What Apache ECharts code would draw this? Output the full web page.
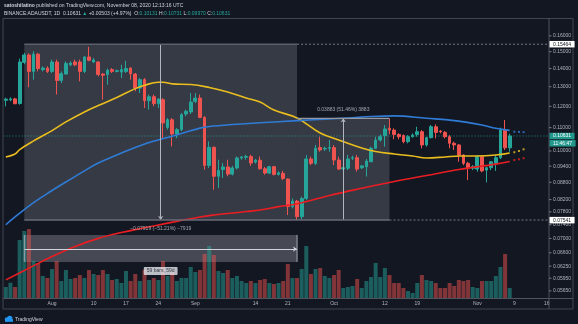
<!DOCTYPE html>
<html>
<head>
<meta charset="utf-8">
<script src="https://cdn.jsdelivr.net/npm/echarts@6/dist/echarts.min.js"></script>
<style>
  html, body { margin: 0; padding: 0; background: #131722; }
  #chart { width: 578px; height: 324px; }
</style>
</head>
<body>
<div id="chart"></div>
<script>
// ---------- ADA/USDT daily, Jul 22 – Nov 8 2020 (axis runs on to Nov 16) ----------
const firstDate = '2020-07-22';
const axisDays = 118;

const xTickDates = ['2020-08-01','2020-08-10','2020-08-17','2020-08-24','2020-09-01','2020-09-14',
  '2020-09-21','2020-10-01','2020-10-12','2020-10-19','2020-11-01','2020-11-09','2020-11-16'];
const xTickTexts = ['Aug','10','17','24','Sep','14','21','Oct','12','19','Nov','9','16'];

const priceTicks = [0.16, 0.15, 0.14, 0.13, 0.12, 0.11, 0.10, 0.094, 0.088, 0.082, 0.078,
  0.074, 0.070, 0.066, 0.0625, 0.0595, 0.0565];

const opens = [
  0.1230,0.1232,0.1237,0.1214,0.1436,0.1480,0.1384,0.1485,0.1394,0.1403,
  0.1384,0.1438,0.1334,0.1369,0.1422,0.1438,0.1438,0.1384,0.1468,0.1438,
  0.1438,0.1369,0.1366,0.1394,0.1384,0.1380,0.1384,0.1403,0.1369,0.1293,
  0.1338,0.1228,0.1248,0.1213,0.1233,0.1101,0.1136,0.1072,0.1091,0.1163,
  0.1173,0.1225,0.1241,0.1147,0.0943,0.1015,0.0902,0.0927,0.0937,0.0910,
  0.0933,0.0972,0.0975,0.0978,0.0956,0.0963,0.0930,0.0914,0.0938,0.0909,
  0.0913,0.0892,0.0797,0.0815,0.0765,0.0824,0.0968,0.0951,0.1014,0.1008,
  0.1011,0.1014,0.0964,0.0929,0.0932,0.0971,0.0973,0.0934,0.0938,0.0957,
  0.1011,0.1046,0.1065,0.1097,0.1089,0.1070,0.1065,0.1039,0.1060,0.1070,
  0.1082,0.1025,0.1056,0.1104,0.1085,0.1079,0.1060,0.1032,0.1025,0.0984,
  0.0951,0.0932,0.0929,0.0977,0.0925,0.0934,0.0951,0.0973,0.1089,0.10131];
const highs = [
  0.1243,0.1245,0.1243,0.1458,0.1492,0.1490,0.1502,0.1492,0.1413,0.1413,
  0.1452,0.1452,0.1384,0.1442,0.1442,0.1452,0.1452,0.1472,0.1530,0.1462,
  0.1442,0.1375,0.1400,0.1403,0.1394,0.1422,0.1445,0.1407,0.1375,0.1347,
  0.1347,0.1259,0.1259,0.1241,0.1241,0.1144,0.1144,0.1098,0.1168,0.1184,
  0.1267,0.1267,0.1259,0.1152,0.1040,0.1019,0.0965,0.0952,0.0965,0.0941,
  0.0978,0.0980,0.0985,0.0985,0.0968,0.0978,0.0937,0.0941,0.0941,0.0920,
  0.0922,0.0894,0.0824,0.0819,0.0830,0.0984,0.0977,0.1025,0.1060,0.1018,
  0.1046,0.1025,0.0977,0.0938,0.0984,0.0981,0.0984,0.0944,0.0968,0.1018,
  0.1060,0.1070,0.1112,0.1140,0.1097,0.1075,0.1070,0.1067,0.1075,0.1104,
  0.1089,0.1060,0.1112,0.1115,0.1089,0.1085,0.1067,0.1039,0.1028,0.0986,
  0.0957,0.0944,0.0984,0.0981,0.0938,0.0960,0.0984,0.1100,0.1135,0.10731];
const lows = [
  0.1200,0.1225,0.1210,0.1208,0.1425,0.1297,0.1338,0.1384,0.1384,0.1375,
  0.1375,0.1259,0.1320,0.1366,0.1413,0.1413,0.1329,0.1375,0.1442,0.1432,
  0.1356,0.1233,0.1311,0.1375,0.1378,0.1347,0.1375,0.1338,0.1276,0.1267,
  0.1192,0.1184,0.1200,0.1192,0.1054,0.1091,0.1019,0.1054,0.1084,0.1152,
  0.1163,0.1216,0.1144,0.0927,0.0933,0.0854,0.0860,0.0896,0.0902,0.0905,
  0.0927,0.0965,0.0965,0.0941,0.0950,0.0927,0.0908,0.0910,0.0905,0.0905,
  0.0888,0.0770,0.0791,0.07545,0.0756,0.0819,0.0944,0.0944,0.0997,0.1000,
  0.0997,0.0944,0.0925,0.0922,0.0925,0.0964,0.0919,0.0929,0.0901,0.0957,
  0.1008,0.1039,0.1018,0.1070,0.1049,0.1049,0.1032,0.1032,0.1056,0.1060,
  0.1011,0.1018,0.1053,0.1053,0.1075,0.1053,0.1011,0.1004,0.0957,0.0944,
  0.0888,0.0925,0.0919,0.0917,0.0880,0.0925,0.0922,0.0968,0.1004,0.09970];
const closes = [
  0.1236,0.1237,0.1213,0.1438,0.1480,0.1384,0.1485,0.1400,0.1403,0.1384,
  0.1438,0.1334,0.1371,0.1430,0.1432,0.1422,0.1384,0.1468,0.1448,0.1450,
  0.1366,0.1362,0.1390,0.1384,0.1388,0.1394,0.1400,0.1371,0.1293,0.1338,
  0.1228,0.1248,0.1213,0.1236,0.1121,0.1136,0.1072,0.1091,0.1160,0.1176,
  0.1221,0.1241,0.1147,0.0943,0.1015,0.0902,0.0924,0.0937,0.0910,0.0933,
  0.0972,0.0976,0.0978,0.0952,0.0963,0.0930,0.0914,0.0938,0.0909,0.0915,
  0.0894,0.0797,0.0815,0.0765,0.0824,0.0968,0.0951,0.1011,0.1004,0.1011,
  0.1014,0.0964,0.0929,0.0934,0.0968,0.0973,0.0929,0.0941,0.0960,0.1011,
  0.1046,0.1060,0.1094,0.1089,0.1070,0.1060,0.1039,0.1060,0.1067,0.1082,
  0.1025,0.1056,0.1104,0.1079,0.1082,0.1060,0.1032,0.1025,0.0984,0.0951,
  0.0932,0.0938,0.0977,0.0922,0.0934,0.0957,0.0973,0.1089,0.10131,0.10631];
const volumes = [
  110,153,110,580,670,690,370,350,220,200,
  290,370,170,280,190,200,230,200,280,240,
  230,280,240,180,190,150,270,170,240,170,
  280,180,200,180,370,220,270,170,200,200,
  310,260,280,440,520,430,270,250,280,200,
  220,170,150,170,150,180,190,150,140,150,
  170,340,200,200,290,520,240,290,300,220,
  200,230,280,100,110,120,190,100,170,210,
  350,210,300,230,150,150,100,70,50,150,
  230,180,170,150,100,100,150,120,180,170,
  180,110,100,170,170,170,220,310,440,100];

// moving averages, [day index from Jul 22, value]
const maYellow = [[0,0.0976],[2,0.0988],[3,0.1006],[6,0.1042],[10,0.1087],[13,0.1126],[17,0.1173],
  [20,0.1204],[24,0.1244],[28,0.1290],[30,0.1308],[33,0.1324],[34,0.1324],[36,0.1315],[40,0.1312],
  [44,0.1296],[48,0.1272],[52,0.1241],[55,0.1221],[58,0.1182],[63,0.1144],[68,0.1076],[72,0.1046],
  [77,0.1012],[80,0.0998],[84,0.0988],[88,0.0980],[91,0.0972],[95,0.0976],[98,0.0980],[102,0.0980],
  [106,0.0984],[109,0.0992]];
const maBlue = [[0,0.0740],[2,0.0764],[6,0.0810],[10,0.0851],[13,0.0881],[17,0.0922],[20,0.0952],
  [24,0.0984],[28,0.1014],[31,0.1035],[35,0.1057],[38,0.1074],[42,0.1098],[44,0.1105],[49,0.1114],
  [55,0.1122],[63,0.1132],[70,0.1140],[74,0.1144],[79,0.1151],[84,0.1154],[91,0.1143],[97,0.1132],
  [103,0.1112],[106,0.1097],[109,0.1088]];
const maRed = [[0,0.0591],[5,0.0620],[10,0.0650],[15,0.0677],[20,0.0700],[25,0.0717],[30,0.0731],
  [35,0.0745],[42,0.0764],[45,0.0770],[52,0.0781],[55,0.0786],[59,0.0797],[63,0.0806],[70,0.0834],
  [77,0.0859],[84,0.0883],[91,0.0905],[98,0.0927],[106,0.0948],[109,0.0958]];
const projYellow = [[110,0.0995],[111,0.1000],[112,0.1007]];
const projBlue = [[110,0.1082],[111,0.1081],[112,0.1080]];
const projRed = [[110,0.0964],[111,0.0967],[112,0.0971]];

// drawings (price range, second price range, date range)
const rangeHigh = 0.15464, rangeLow = 0.07545, rangeUpTop = 0.11428;
const rangeStart = 4, rangeEnd = 63, rangeUpEnd = 83;
const lastPrice = 0.10631, lowTag = 0.07541;
const dateBoxTop = 0.0710, dateBoxBottom = 0.0636, dateArrowPrice = 0.0670, dateLabelPrice = 0.0613;
const downText = '\u22120.07919 (\u221251.21%) \u22127919';
const upText = '0.03883 (51.46%) 3883';
const barsText = '59 bars, 59d';

// ---------- build ----------
const FONT = 'Liberation Sans, Arial, sans-serif';
const UP = '#26a69a', DOWN = '#ef5350';

const categories = [];
(function () {
  const d0 = new Date(firstDate + 'T00:00:00Z');
  for (let k = 0; k < axisDays; k++) {
    const d = new Date(d0.getTime() + k * 86400000);
    categories.push(d.toISOString().slice(0, 10));
  }
})();
const tickMap = {};
xTickDates.forEach((d, k) => { tickMap[d] = xTickTexts[k]; });

const candleData = opens.map((o, k) => [o, closes[k], lows[k], highs[k]]);
const volumeData = volumes.map((v, k) => ({
  value: v,
  itemStyle: { color: closes[k] >= opens[k] ? 'rgba(38,166,154,0.5)' : 'rgba(239,83,80,0.5)' }
}));

const gridTop = 19, gridHeight = 279;
const priceMin = 0.0548812, priceMax = 0.171396;

function seg(points, color, width, type, z) {
  return {
    type: 'line', xAxisIndex: 1, yAxisIndex: 0, data: points, symbol: 'none', silent: true,
    lineStyle: { color: color, width: width, type: type || 'solid' }, z: z || 5, animation: false
  };
}
function maLine(points, color) {
  return {
    type: 'line', xAxisIndex: 1, yAxisIndex: 0, data: points, symbol: 'none', smooth: 0.4,
    lineStyle: { color: color, width: 1.6 }, z: 4, silent: true
  };
}
function projDots(points, color) {
  return {
    type: 'scatter', xAxisIndex: 1, yAxisIndex: 0, data: points, symbol: 'rect', symbolSize: 2,
    itemStyle: { color: color }, z: 4, silent: true
  };
}

const option = {
  backgroundColor: '#131722',
  animation: false,
  grid: { left: 3.5, top: gridTop, width: 545.5, height: gridHeight, containLabel: false },
  xAxis: [
    {
      type: 'category', data: categories, boundaryGap: true,
      axisLine: { show: false }, axisTick: { show: false }, splitLine: { show: false },
      axisLabel: {
        interval: (idx, val) => tickMap[val] !== undefined,
        formatter: (val) => tickMap[val] || '',
        color: '#b2b5be', fontSize: 5, fontFamily: FONT, margin: 3.5
      }
    },
    { type: 'value', min: -0.5, max: axisDays - 0.5, show: false }
  ],
  yAxis: [
    { type: 'log', min: priceMin, max: priceMax, show: false },
    { type: 'value', min: 0, max: 2790, show: false }
  ],
  series: [
    { type: 'bar', xAxisIndex: 0, yAxisIndex: 1, data: volumeData, barWidth: 4, z: 1, silent: true },
    {
      type: 'line', xAxisIndex: 1, yAxisIndex: 0, data: [], z: 2, silent: true,
      markArea: {
        silent: true,
        itemStyle: { color: 'rgba(120,123,134,0.35)' },
        data: [
          [{ coord: [rangeStart, rangeHigh] }, { coord: [rangeEnd, rangeLow] }],
          [{ coord: [rangeEnd, rangeUpTop] }, { coord: [rangeUpEnd, rangeLow] }],
          [{ coord: [rangeStart, dateBoxTop], itemStyle: { color: 'rgba(140,143,152,0.42)' } },
           { coord: [rangeEnd, dateBoxBottom] }]
        ]
      }
    },
    {
      type: 'candlestick', xAxisIndex: 0, yAxisIndex: 0, data: candleData, barWidth: 3.2, z: 3,
      silent: true,
      itemStyle: { color: UP, color0: DOWN, borderColor: UP, borderColor0: DOWN, borderWidth: 1 }
    },
    maLine(maYellow, '#e9bd1d'),
    maLine(maBlue, '#2f7bd6'),
    maLine(maRed, '#ea1d22'),
    projDots(projYellow, '#e9bd1d'),
    projDots(projBlue, '#2f7bd6'),
    projDots(projRed, '#ea1d22'),
    // last price line
    seg([[-0.5, lastPrice], [axisDays - 0.5, lastPrice]], 'rgba(38,166,154,0.85)', 1, [1, 2], 2),
    // price range borders
    seg([[rangeStart, rangeHigh], [rangeEnd, rangeHigh]], '#5d606b', 1.5, 'solid', 5),
    seg([[rangeStart, rangeLow], [rangeUpEnd, rangeLow]], '#6a6d78', 1.5, 'solid', 5),
    seg([[rangeEnd, rangeUpTop], [rangeUpEnd, rangeUpTop]], '#9598a1', 1.2, 'solid', 5),
    seg([[rangeEnd, rangeHigh], [axisDays - 0.5, rangeHigh]], '#787b86', 1, [2, 2], 5),
    seg([[rangeUpEnd, rangeLow], [axisDays - 0.5, rangeLow]], '#787b86', 1, [2, 2], 5),
    // date range edges
    seg([[rangeStart, dateBoxTop], [rangeStart, dateBoxBottom]], '#a3a6af', 1, 'solid', 5),
    seg([[rangeEnd, dateBoxTop], [rangeEnd, dateBoxBottom]], '#a3a6af', 1, 'solid', 5),
    {
      type: 'line', xAxisIndex: 1, yAxisIndex: 0, data: [], z: 5, silent: true,
      markLine: {
        silent: true, animation: false, symbol: ['none', 'arrow'], symbolSize: 4,
        label: { show: false },
        lineStyle: { color: '#b2b5be', width: 1, type: 'solid' },
        emphasis: { disabled: true },
        data: [
          [{ coord: [(rangeStart + rangeEnd) / 2, rangeHigh] }, { coord: [(rangeStart + rangeEnd) / 2, rangeLow] }],
          [{ coord: [(rangeEnd + rangeUpEnd) / 2, rangeLow] }, { coord: [(rangeEnd + rangeUpEnd) / 2, rangeUpTop] }],
          [{ coord: [rangeStart, dateArrowPrice], lineStyle: { color: '#d1d4dc' } }, { coord: [rangeEnd, dateArrowPrice] }]
        ]
      }
    },
    {
      type: 'scatter', xAxisIndex: 1, yAxisIndex: 0, symbolSize: 1, z: 6, silent: true,
      itemStyle: { color: 'rgba(0,0,0,0)' },
      data: [
        { value: [(rangeStart + rangeEnd) / 2, rangeLow],
          label: { show: true, position: 'bottom', distance: 6, formatter: downText, color: '#c5c8d0', fontSize: 5, fontFamily: FONT } },
        { value: [(rangeEnd + rangeUpEnd) / 2, rangeUpTop],
          label: { show: true, position: 'top', distance: 6, formatter: upText, color: '#c5c8d0', fontSize: 5, fontFamily: FONT } },
        { value: [(rangeStart + rangeEnd) / 2, dateLabelPrice],
          label: { show: true, position: 'inside', formatter: barsText, color: '#131722', fontSize: 5, fontFamily: FONT,
                   backgroundColor: '#e6e8ee', padding: [1.5, 3], borderRadius: 1 } }
      ]
    }
  ]
};

const chart = echarts.init(document.getElementById('chart'), null, { renderer: 'canvas' });
chart.setOption(option);

// ---------- price scale, frame, header ----------
const axisX = 549;
const els = [];
const light = '#d1d4dc';

// frame
els.push({ type: 'rect', shape: { x: 3, y: 18.5, width: 570, height: 290.5 },
  style: { fill: 'none', stroke: '#434651', lineWidth: 1 }, silent: true, z: 10 });
els.push({ type: 'line', shape: { x1: axisX, y1: 18.5, x2: axisX, y2: 309 },
  style: { stroke: '#50535e', lineWidth: 1 }, silent: true, z: 10 });
els.push({ type: 'line', shape: { x1: 3, y1: 298.5, x2: 573, y2: 298.5 },
  style: { stroke: '#50535e', lineWidth: 1 }, silent: true, z: 10 });

priceTicks.forEach((p) => {
  const y = chart.convertToPixel({ yAxisIndex: 0 }, p);
  els.push({ type: 'line', shape: { x1: axisX, y1: y, x2: axisX + 2.5, y2: y },
    style: { stroke: '#787b86', lineWidth: 1 }, silent: true, z: 10 });
  els.push({ type: 'text', x: axisX + 4, y: y, silent: true, z: 10,
    style: { text: p.toFixed(5), fill: '#b2b5be', fontSize: 5, fontFamily: FONT, verticalAlign: 'middle', align: 'left' } });
});

function priceTag(p, text, bg, fg, dy) {
  const y = chart.convertToPixel({ yAxisIndex: 0 }, p) + (dy || 0);
  els.push({ type: 'text', x: axisX + 0.5, y: y, silent: true, z: 11,
    style: { text: text, fill: fg, backgroundColor: bg, padding: [1, 3.5, 0.5, 3.5], fontSize: 5, fontFamily: FONT,
             verticalAlign: 'middle', align: 'left' } });
}
priceTag(rangeHigh, '0.15464', '#ffffff', '#131722');
priceTag(lowTag, '0.07541', '#ffffff', '#131722');
priceTag(lastPrice, '0.10631', '#22988c', '#ffffff');
priceTag(lastPrice, '11:46:47', '#22988c', '#ffffff', 7.3);

// header: author line (bold name measured so the rest follows it), then symbol / OHLC line
const authorName = 'satoshilatino';
const measureCtx = document.createElement('canvas').getContext('2d');
measureCtx.font = 'bold 5px ' + FONT;
const authorWidth = measureCtx.measureText(authorName + ' ').width;
els.push({ type: 'text', x: 4, y: 5.7, silent: true, z: 10,
  style: { text: authorName, fill: light, fontSize: 5, fontWeight: 'bold', fontFamily: FONT, verticalAlign: 'middle', align: 'left' } });
els.push({ type: 'text', x: 4 + authorWidth, y: 5.7, silent: true, z: 10,
  style: { text: 'published on TradingView.com, November 08, 2020 12:13:16 UTC', fill: light, fontSize: 5,
           fontFamily: FONT, verticalAlign: 'middle', align: 'left' } });
els.push({ type: 'text', x: 4, y: 13.5, silent: true, z: 10,
  style: {
    text: '{n|BINANCE:ADAUSDT, 1D  0.10631 }{t|\u25B2}{n| +0.00503 (+4.97%)  O:}{t|0.10131}{n| H:}{t|0.10731}{n| L:}{t|0.09970}{n| C:}{t|0.10631}',
    verticalAlign: 'middle',
    rich: {
      n: { fill: light, fontSize: 5, fontFamily: FONT },
      t: { fill: UP, fontSize: 5, fontFamily: FONT }
    }
  } });

// logo
els.push({ type: 'circle', shape: { cx: 7, cy: 319.5, r: 2.2 }, style: { fill: '#2196f3' }, silent: true, z: 10 });
els.push({ type: 'circle', shape: { cx: 9.8, cy: 318.3, r: 2.6 }, style: { fill: '#2196f3' }, silent: true, z: 10 });
els.push({ type: 'rect', shape: { x: 5, y: 319.2, width: 8, height: 2.6 }, style: { fill: '#2196f3' }, silent: true, z: 10 });
els.push({ type: 'text', x: 15, y: 319.5, silent: true, z: 10,
  style: { text: 'TradingView', fill: light, fontSize: 5, fontFamily: FONT, verticalAlign: 'middle' } });

chart.setOption({ graphic: els });
</script>
</body>
</html>
